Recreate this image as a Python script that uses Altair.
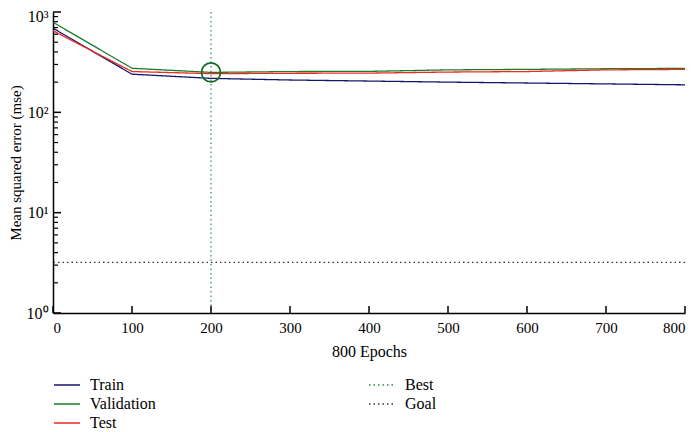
import altair as alt
import pandas as pd

epochs = [0, 100, 200, 300, 400, 500, 600, 700, 800]
train = [690, 240, 218, 210, 205, 200, 196, 192, 188]
validation = [790, 275, 250, 255, 256, 265, 268, 272, 274]
test = [650, 255, 243, 245, 246, 252, 255, 265, 268]

best_epoch = [200]
best_value = [250]
goal_value = [3.2]

series_order = ["Train", "Validation", "Test", "Best", "Goal"]
series_colors = ["#15156e", "#1e7b2a", "#ee2a1e", "#2e8b4a", "#333333"]
series_dashes = [[1, 0], [1, 0], [1, 0], [1.5, 3], [1.5, 3]]

y_major = [1, 10, 100, 1000]
y_minor = [m * 10 ** k for k in range(3) for m in range(2, 10)]
x_major = [0, 100, 200, 300, 400, 500, 600, 700, 800]

FONT = "Liberation Serif"

rows = []
for name, vals in [("Train", train), ("Validation", validation), ("Test", test)]:
    for e, v in zip(epochs, vals):
        rows.append({"epoch": e, "mse": v, "series": name})
df = pd.DataFrame(rows)

color_enc = alt.Color("series:N", scale=alt.Scale(domain=series_order, range=series_colors), title=None)
dash_enc = alt.StrokeDash("series:N", scale=alt.Scale(domain=series_order, range=series_dashes), title=None)

x_scale = alt.Scale(domain=[0, 800], nice=False)
y_scale = alt.Scale(type="log", domain=[1, 1000], nice=False)

sup = "{'1':'⁰','10':'¹','100':'²','1000':'³'}"

lines = alt.Chart(df).mark_line(strokeWidth=1.3).encode(
    x=alt.X("epoch:Q", scale=x_scale, title="800 Epochs",
            axis=alt.Axis(values=x_major, ticks=False, grid=False, labelPadding=7,
                          labelFontSize=15, titleFontSize=16, titlePadding=8)),
    y=alt.Y("mse:Q", scale=y_scale, title="Mean squared error (mse)",
            axis=alt.Axis(values=y_major, ticks=False, grid=False, labelPadding=5,
                          labelFontSize=16,
                          labelOffset={"condition": {"test": "datum.value == 1000", "value": 4}, "value": 0},
                          labelExpr="'10' + " + sup + "[toString(datum.value)]",
                          titleFontSize=15, titlePadding=3)),
    color=color_enc,
    strokeDash=dash_enc,
)

best_rule = alt.Chart(pd.DataFrame({"epoch": best_epoch, "series": ["Best"]})).mark_rule(
    strokeWidth=1.2).encode(
    x=alt.X("epoch:Q", scale=x_scale),
    color=color_enc,
    strokeDash=dash_enc,
)

goal_rule = alt.Chart(pd.DataFrame({"mse": goal_value, "series": ["Goal"]})).mark_rule(
    strokeWidth=1.2).encode(
    y=alt.Y("mse:Q", scale=y_scale),
    color=color_enc,
    strokeDash=dash_enc,
)

circle = alt.Chart(pd.DataFrame({"epoch": best_epoch, "mse": best_value})).mark_point(
    shape="circle", filled=False, size=360, color="#146b24", strokeWidth=1.8, opacity=1).encode(
    x=alt.X("epoch:Q", scale=x_scale),
    y=alt.Y("mse:Q", scale=y_scale),
)

ytick_major = alt.Chart(pd.DataFrame({"v": y_major})).mark_rule(color="black", strokeWidth=1.5).encode(
    y=alt.Y("v:Q", scale=y_scale), x=alt.value(0), x2=alt.value(8))
ytick_minor = alt.Chart(pd.DataFrame({"v": y_minor})).mark_rule(color="black", strokeWidth=1.2).encode(
    y=alt.Y("v:Q", scale=y_scale), x=alt.value(0), x2=alt.value(5))
xtick = alt.Chart(pd.DataFrame({"v": x_major})).mark_rule(color="black", strokeWidth=1.5).encode(
    x=alt.X("v:Q", scale=x_scale), y=alt.value(301), y2=alt.value(294))

chart = alt.layer(lines, best_rule, goal_rule, circle, ytick_major, ytick_minor, xtick).properties(
    width=632, height=301,
    autosize=alt.AutoSizeParams(type="none"),
    padding={"left": 45, "top": 4, "right": 3, "bottom": 119},
).configure_view(stroke=None).configure_axis(
    domainColor="black", domainWidth=1.5,
    labelFont=FONT, titleFont=FONT, labelFontSize=14, titleFontSize=15,
    labelColor="black", titleColor="black", titleFontWeight="normal",
).configure_legend(
    orient="none", legendX=3, legendY=362, columns=2, direction="vertical",
    symbolType="M-1.3,0H1.3", symbolSize=400, symbolStrokeWidth=1.5,
    labelFont=FONT, labelFontSize=16, labelColor="black", labelOffset=12,
    rowPadding=0, columnPadding=210, title=None,
)

chart.save("out.html", embed_options={"renderer": "svg", "actions": False})
